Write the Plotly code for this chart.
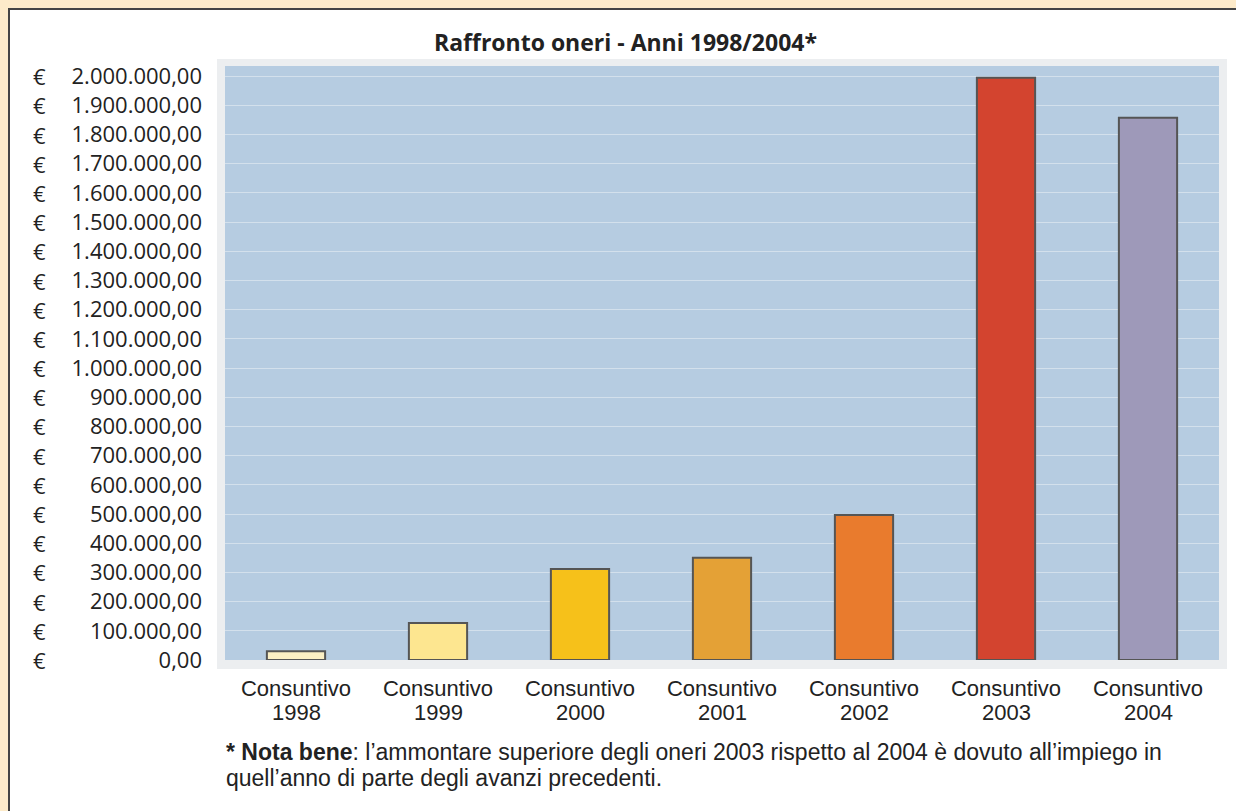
import plotly.graph_objects as go

categories = ["1998", "1999", "2000", "2001", "2002", "2003", "2004"]
category_prefix = "Consuntivo"
values = [30000, 127000, 312000, 350000, 497000, 1995000, 1858000]
bar_colors = ["#fbefc4", "#fde690", "#f6c11a", "#e4a136", "#e97b2d", "#d3442f", "#9e99b9"]
tick_vals = [i * 100000 for i in range(21)]
tick_labels = ["0,00", "100.000,00", "200.000,00", "300.000,00", "400.000,00", "500.000,00",
               "600.000,00", "700.000,00", "800.000,00", "900.000,00", "1.000.000,00",
               "1.100.000,00", "1.200.000,00", "1.300.000,00", "1.400.000,00", "1.500.000,00",
               "1.600.000,00", "1.700.000,00", "1.800.000,00", "1.900.000,00", "2.000.000,00"]

W, H = 1236, 811
L, R, T, B = 225, 17, 66, 151
pw, ph = W - L - R, H - T - B

def px(x):
    return (x - L) / pw

def py(y):
    return (H - B - y) / ph

fig = go.Figure(go.Bar(
    x=categories, y=values, width=0.41,
    marker=dict(color=bar_colors, line=dict(color="#555555", width=2)),
    hoverinfo="skip",
))

shapes = [
    dict(type="rect", xref="paper", yref="paper", x0=px(9), x1=px(1320), y0=py(880), y1=py(9),
         fillcolor="white", line=dict(color="#444444", width=2), layer="below"),
    dict(type="rect", xref="paper", yref="paper", x0=px(217), x1=px(1227), y0=py(669), y1=py(59),
         fillcolor="#eceef0", line=dict(width=0), layer="below"),
    dict(type="rect", xref="paper", yref="paper", x0=0, x1=1, y0=0, y1=1,
         fillcolor="#b6cce1", line=dict(width=0), layer="below"),
]

TXT = "#222222"
annotations = [dict(text="€", x=px(31), xref="paper", y=v, yref="y", xanchor="left",
                    yanchor="middle", showarrow=False,
                    font=dict(family="Open Sans", size=22, color=TXT)) for v in tick_vals]
annotations += [dict(text=c, x=(i + 0.5) / len(categories), xref="paper", y=py(712), yref="paper",
                     xanchor="center", yanchor="middle", showarrow=False,
                     font=dict(family="Liberation Sans", size=22, color=TXT))
                for i, c in enumerate(categories)]
annotations += [
    dict(text="<b>Raffronto oneri - Anni 1998/2004*</b>", x=px(625), y=py(42), xref="paper", yref="paper",
         xanchor="center", yanchor="middle", showarrow=False,
         font=dict(family="Open Sans", size=23, color=TXT)),
    dict(text="<b>* Nota bene</b>: l’ammontare superiore degli oneri 2003 rispetto al 2004 è dovuto all’impiego in",
         x=px(224), y=py(752), xref="paper", yref="paper", xanchor="left", yanchor="middle", showarrow=False,
         font=dict(family="Liberation Sans", size=23, color=TXT)),
    dict(text="quell’anno di parte degli avanzi precedenti.",
         x=px(224), y=py(778), xref="paper", yref="paper", xanchor="left", yanchor="middle", showarrow=False,
         font=dict(family="Liberation Sans", size=23, color=TXT)),
]

fig.update_layout(
    width=W, height=H, margin=dict(l=L, r=R, t=T, b=B),
    paper_bgcolor="#fdebca", plot_bgcolor="rgba(0,0,0,0)",
    showlegend=False, shapes=shapes, annotations=annotations,
    xaxis=dict(type="category", showgrid=False, zeroline=False, showline=False, ticks="",
               tickvals=categories, ticktext=[category_prefix] * len(categories),
               tickfont=dict(family="Liberation Sans", size=22, color=TXT),
               ticklabelstandoff=13, range=[-0.5, 6.5], fixedrange=True),
    yaxis=dict(range=[0, 2035000], tickvals=tick_vals, ticktext=tick_labels,
               showgrid=True, gridcolor="#d3e0ec", gridwidth=1, zeroline=False, showline=False,
               ticks="", ticklabelstandoff=22,
               tickfont=dict(family="Open Sans", size=22, color=TXT), fixedrange=True),
)

fig.write_html("out.html", config={"displayModeBar": False},
               post_script="document.body.style.margin='0';")
